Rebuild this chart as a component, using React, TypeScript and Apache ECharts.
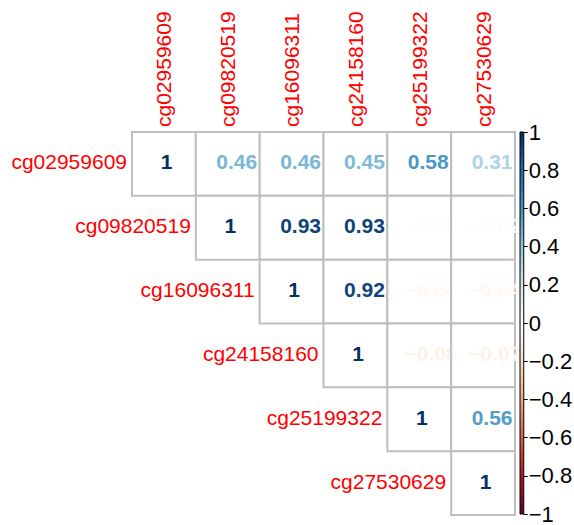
import { useEffect, useRef } from 'react';
import * as echarts from 'echarts';

// Probe names (row and column order of the correlation matrix)
const probes = ['cg02959609', 'cg09820519', 'cg16096311', 'cg24158160', 'cg25199322', 'cg27530629'];

// Upper triangle of the correlation matrix, each row starting at its diagonal
const rowCg02959609 = [1, 0.46, 0.46, 0.45, 0.58, 0.31];
const rowCg09820519 = [1, 0.93, 0.93, -0.01, -0.02];
const rowCg16096311 = [1, 0.92, -0.04, -0.04];
const rowCg24158160 = [1, -0.08, -0.07];
const rowCg25199322 = [1, 0.56];
const rowCg27530629 = [1];

// Diverging RdBu palette, from -1 to 1
const paletteStops = ['#67001F', '#B2182B', '#D6604D', '#F4A582', '#FDDBC7', '#FFFFFF', '#D1E5F0', '#92C5DE', '#4393C3', '#2166AC', '#053061'];
const colorbarTicks = [-1, -0.8, -0.6, -0.4, -0.2, 0, 0.2, 0.4, 0.6, 0.8, 1];

const upperRows = [rowCg02959609, rowCg09820519, rowCg16096311, rowCg24158160, rowCg25199322, rowCg27530629];

const FONT = '"Liberation Sans", Arial, Helvetica, sans-serif';
const COEF_FONT_SIZE = 21;

function hexToRgb(h: string): number[] {
  const n = parseInt(h.slice(1), 16);
  return [(n >> 16) & 255, (n >> 8) & 255, n & 255];
}

function valueColor(v: number): string {
  const t = ((v + 1) / 2) * (paletteStops.length - 1);
  const i = Math.min(Math.floor(t), paletteStops.length - 2);
  const f = t - i;
  const a = hexToRgb(paletteStops[i]);
  const b = hexToRgb(paletteStops[i + 1]);
  const c = a.map((x, k) => Math.round(x + (b[k] - x) * f));
  return `rgb(${c[0]},${c[1]},${c[2]})`;
}

function minusSign(s: string): string {
  return s.replace('-', '\u2212');
}

let measureCtx: CanvasRenderingContext2D | null = null;
function textWidth(text: string): number {
  if (!measureCtx) measureCtx = document.createElement('canvas').getContext('2d');
  if (!measureCtx) return text.length * COEF_FONT_SIZE * 0.55;
  measureCtx.font = `bold ${COEF_FONT_SIZE}px ${FONT}`;
  return measureCtx.measureText(text).width;
}

export default function App() {
  const ref = useRef<HTMLDivElement>(null);

  useEffect(() => {
    if (!ref.current) return;
    const chart = echarts.init(ref.current, undefined, { renderer: 'svg' });

    const cells: number[][] = [];
    upperRows.forEach((row, i) => {
      row.forEach((v, k) => cells.push([i + k, i, v]));
    });
    const diagonal = probes.map((_, i) => [i, i]);

    const gradientStops = paletteStops
      .slice()
      .reverse()
      .map((c, i) => ({ offset: i / (paletteStops.length - 1), color: c }));

    chart.setOption({
      animation: false,
      backgroundColor: '#ffffff',
      grid: [
        { left: 132, top: 132, width: 383, height: 383 },
        { left: 520, top: 132, width: 15, height: 383 },
      ],
      xAxis: [
        {
          type: 'category',
          gridIndex: 0,
          position: 'top',
          data: probes,
          axisLine: { show: false },
          axisTick: { show: false },
          splitLine: { show: false },
          axisLabel: {
            rotate: -90,
            margin: 5,
            color: '#FF0000',
            fontSize: 21,
            fontFamily: FONT,
            interval: 0,
          },
        },
        {
          type: 'category',
          gridIndex: 1,
          data: [''],
          show: false,
        },
      ],
      yAxis: [
        {
          type: 'category',
          gridIndex: 0,
          data: probes,
          inverse: true,
          show: false,
        },
        {
          type: 'value',
          gridIndex: 1,
          position: 'right',
          min: -1,
          max: 1,
          interval: 0.2,
          splitLine: { show: false },
          axisLine: { show: false },
          axisTick: { show: true, length: 4, lineStyle: { color: '#000', width: 1 } },
          axisLabel: {
            margin: 5,
            color: '#000',
            fontSize: 22,
            fontFamily: FONT,
            formatter: (v: number) => {
              const t = colorbarTicks.find((x) => Math.abs(x - v) < 1e-6);
              return minusSign(String(t !== undefined ? t : Math.round(v * 10) / 10));
            },
          },
        },
      ],
      series: [
        {
          type: 'custom',
          name: 'coefficients',
          xAxisIndex: 0,
          yAxisIndex: 0,
          data: cells,
          renderItem: (_params: any, api: any) => {
            const v = api.value(2) as number;
            const c = api.coord([api.value(0), api.value(1)]);
            const s = api.size([1, 1]);
            const label = minusSign(String(v));
            const w = textWidth(label);
            return {
              type: 'group',
              children: [
                {
                  type: 'rect',
                  shape: { x: c[0] - s[0] / 2, y: c[1] - s[1] / 2, width: s[0], height: s[1] },
                  style: { fill: '#ffffff', stroke: '#BEBEBE', lineWidth: 2 },
                },
                {
                  type: 'text',
                  x: c[0] - 0.28 * w,
                  y: c[1] - 2,
                  style: {
                    text: label,
                    fill: valueColor(v),
                    fontSize: COEF_FONT_SIZE,
                    fontWeight: 'bold',
                    fontFamily: FONT,
                    align: 'left',
                    verticalAlign: 'middle',
                  },
                },
              ],
            };
          },
        },
        {
          type: 'custom',
          name: 'rowLabels',
          xAxisIndex: 0,
          yAxisIndex: 0,
          data: diagonal,
          renderItem: (params: any, api: any) => {
            const c = api.coord([api.value(0), api.value(1)]);
            const s = api.size([1, 1]);
            return {
              type: 'text',
              x: c[0] - s[0] / 2 - 5,
              y: c[1] - 2,
              style: {
                text: probes[params.dataIndex],
                fill: '#FF0000',
                fontSize: 21,
                fontFamily: FONT,
                align: 'right',
                verticalAlign: 'middle',
              },
            };
          },
        },
        {
          type: 'custom',
          name: 'colorbar',
          xAxisIndex: 1,
          yAxisIndex: 1,
          data: [[0, -1, 1]],
          renderItem: (_params: any, api: any) => {
            const top = api.coord([0, api.value(2)]);
            const bottom = api.coord([0, api.value(1)]);
            const w = api.size([1, 0])[0];
            return {
              type: 'rect',
              shape: { x: top[0] - w / 2, y: top[1], width: w, height: bottom[1] - top[1] },
              style: {
                fill: new echarts.graphic.LinearGradient(0, 0, 0, 1, gradientStops),
                stroke: '#000000',
                lineWidth: 1,
              },
            };
          },
        },
      ],
    });

    return () => chart.dispose();
  }, []);

  return (
    <div
      ref={ref}
      style={{ position: 'fixed', left: 0, top: 0, width: 574, height: 525, background: '#fff' }}
    />
  );
}
